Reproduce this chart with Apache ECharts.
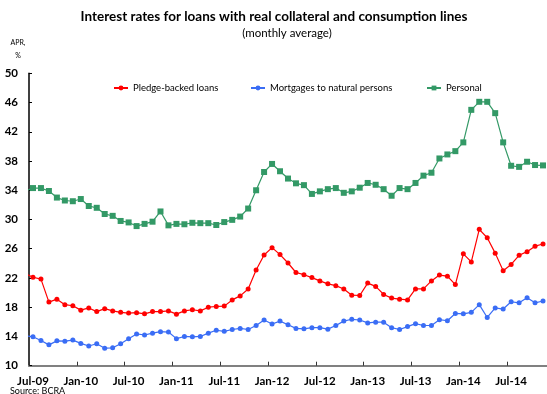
<!DOCTYPE html>
<html>
<head>
<meta charset="utf-8">
<script src="https://cdn.jsdelivr.net/npm/echarts@6/dist/echarts.min.js"></script>
<style>html,body{margin:0;padding:0;background:#fff;}#c{width:547px;height:394px;}</style>
</head>
<body>
<div id="c"></div>
<script>
// Months (first one, Jun-09, lies just left of the plot and is clipped)
var months = ['Jun-09','Jul-09','Aug-09','Sep-09','Oct-09','Nov-09','Dec-09',
  'Jan-10','Feb-10','Mar-10','Apr-10','May-10','Jun-10','Jul-10','Aug-10','Sep-10','Oct-10','Nov-10','Dec-10',
  'Jan-11','Feb-11','Mar-11','Apr-11','May-11','Jun-11','Jul-11','Aug-11','Sep-11','Oct-11','Nov-11','Dec-11',
  'Jan-12','Feb-12','Mar-12','Apr-12','May-12','Jun-12','Jul-12','Aug-12','Sep-12','Oct-12','Nov-12','Dec-12',
  'Jan-13','Feb-13','Mar-13','Apr-13','May-13','Jun-13','Jul-13','Aug-13','Sep-13','Oct-13','Nov-13','Dec-13',
  'Jan-14','Feb-14','Mar-14','Apr-14','May-14','Jun-14','Jul-14','Aug-14','Sep-14','Oct-14','Nov-14'];

var pledge = [22.6,
  22.1,21.85,18.7,19.1,18.35,18.2,
  17.6,17.9,17.4,17.8,17.5,17.3,17.2,17.25,17.1,17.4,17.4,17.5,
  17.05,17.5,17.65,17.5,18.0,18.1,18.15,19.0,19.55,20.5,23.1,25.15,
  26.15,25.2,24.05,22.75,22.45,22.05,21.6,21.2,20.95,20.5,19.65,19.6,
  21.3,20.85,19.75,19.25,19.1,19.0,20.5,20.5,21.6,22.4,22.25,21.1,
  25.3,24.2,28.65,27.5,25.4,23.0,23.85,25.1,25.6,26.35,26.65];

var mortgages = [14.1,
  13.95,13.45,12.85,13.4,13.35,13.5,
  13.05,12.7,13.0,12.4,12.45,13.0,13.7,14.35,14.2,14.45,14.65,14.6,
  13.7,14.0,13.95,14.0,14.45,14.85,14.7,14.95,15.1,14.95,15.5,16.25,
  15.7,16.1,15.6,15.1,15.05,15.2,15.2,15.0,15.5,16.1,16.35,16.25,
  15.85,15.95,15.95,15.2,14.95,15.35,15.75,15.5,15.5,16.3,16.15,17.15,
  17.1,17.3,18.35,16.6,17.9,17.75,18.75,18.6,19.3,18.6,18.85];

var personal = [33.9,
  34.3,34.3,33.9,33.0,32.6,32.5,
  32.8,31.85,31.6,30.75,30.5,29.8,29.6,29.1,29.4,29.7,31.1,29.2,
  29.4,29.35,29.55,29.5,29.5,29.25,29.65,29.95,30.4,31.5,34.0,36.5,
  37.6,36.6,35.6,34.95,34.7,33.5,33.85,34.15,34.3,33.65,33.85,34.35,
  35.0,34.75,34.15,33.25,34.3,34.15,35.0,36.0,36.4,38.35,38.9,39.35,
  40.55,45.0,46.1,46.1,44.55,40.55,37.35,37.2,37.9,37.45,37.4];

var tickLabels = ['Jul-09','Jan-10','Jul-10','Jan-11','Jul-11','Jan-12','Jul-12','Jan-13','Jul-13','Jan-14','Jul-14'];
var yTicks = [10,14,18,22,26,30,34,38,42,46,50];

var seriesNames = ['Pledge-backed loans','Mortgages to natural persons','Personal'];
var FONT = 'Lato, "DejaVu Sans", sans-serif';

// month k in the array sits at the middle of its month on the axis (Jul-09 -> 0.5)
function build(values) {
  return values.map(function (v, k) {
    var item = { value: [k - 0.5, v] };
    if (k === 0) item.symbol = 'none';
    return item;
  });
}

var legendText = { fontSize: 9.5, fontFamily: FONT, color: '#000' };
var chart = echarts.init(document.getElementById('c'), null, { renderer: 'canvas' });
var option = {
  animation: false,
  backgroundColor: '#fff',
  textStyle: { fontFamily: FONT },
  graphic: [
    { type: 'text', x: 274, y: 17, style: { text: 'Interest rates for loans with real collateral and consumption lines', font: 'bold 13.5px ' + FONT, fill: '#000', align: 'center', verticalAlign: 'middle' } },
    { type: 'text', x: 287, y: 33, style: { text: '(monthly average)', font: '11.5px ' + FONT, fill: '#000', align: 'center', verticalAlign: 'middle' } },
    { type: 'text', x: 18, y: 43, style: { text: 'APR,', font: '7px ' + FONT, fill: '#000', align: 'center', verticalAlign: 'middle' } },
    { type: 'text', x: 18, y: 56, style: { text: '%', font: '7px ' + FONT, fill: '#000', align: 'center', verticalAlign: 'middle' } },
    { type: 'text', x: 10, y: 387, style: { text: 'Source: BCRA', font: '9px ' + FONT, fill: '#000' } }
  ],
  legend: [
    { data: [seriesNames[0]], left: 108, top: 78, itemWidth: 14, itemHeight: 6, textStyle: legendText },
    { data: [seriesNames[1]], left: 245, top: 78, itemWidth: 14, itemHeight: 6, textStyle: legendText },
    { data: [seriesNames[2]], left: 421, top: 78, itemWidth: 14, itemHeight: 6, textStyle: legendText }
  ],
  grid: { left: 29, top: 73.3, width: 520, height: 292.4, containLabel: false },
  xAxis: {
    type: 'value', min: 0, max: 65, interval: 6,
    axisLine: { show: true, lineStyle: { color: '#808080', width: 2 } },
    axisTick: { show: true, inside: true, length: 4, lineStyle: { color: '#333', width: 1 } },
    splitLine: { show: false },
    axisLabel: {
      fontWeight: 'bold', fontSize: 11.5, color: '#000', fontFamily: FONT, margin: 10,
      padding: [0, 0, 0, 8], showMaxLabel: false, alignMinLabel: 'center', alignMaxLabel: 'center',
      formatter: function (v) { return (v % 6 === 0 && v / 6 < tickLabels.length) ? tickLabels[v / 6] : ''; }
    }
  },
  yAxis: {
    type: 'value', min: yTicks[0], max: yTicks[yTicks.length - 1], interval: 4,
    axisLine: { show: true, lineStyle: { color: '#000', width: 1.5 } },
    axisTick: { show: true, inside: true, length: 3, lineStyle: { color: '#000', width: 1 } },
    splitLine: { show: false },
    axisLabel: { fontWeight: 'bold', fontSize: 11.5, color: '#000', fontFamily: FONT, margin: 11 }
  },
  series: [
    { name: seriesNames[0], type: 'line', data: build(pledge), clip: true, symbol: 'circle', symbolSize: 5,
      itemStyle: { color: '#ff0000' }, lineStyle: { color: '#ff0000', width: 1.2 } },
    { name: seriesNames[1], type: 'line', data: build(mortgages), clip: true, symbol: 'circle', symbolSize: 5,
      itemStyle: { color: '#3a6df5' }, lineStyle: { color: '#3a6df5', width: 1.2 } },
    { name: seriesNames[2], type: 'line', data: build(personal), clip: true, symbol: 'rect', symbolSize: 6,
      itemStyle: { color: '#339966' }, lineStyle: { color: '#339966', width: 1.2 } }
  ]
};
chart.setOption(option);
</script>
</body>
</html>
